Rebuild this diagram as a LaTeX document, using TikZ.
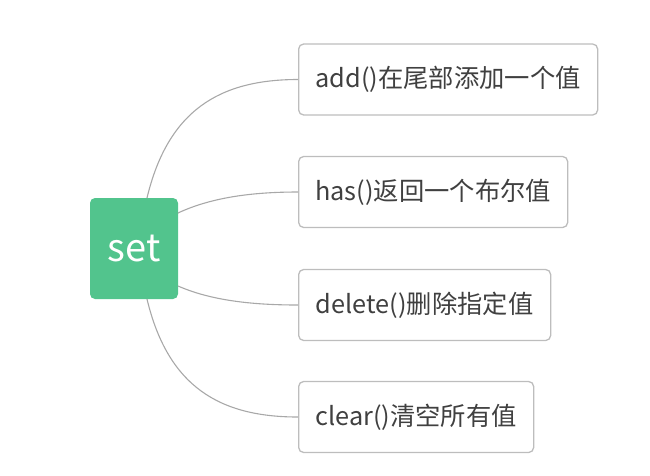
\documentclass[tikz,border=0pt]{standalone}
\usepackage{fontspec}
\setmainfont{Noto Sans CJK SC}
\definecolor{setgreen}{HTML}{52C48D}
\definecolor{boxgray}{HTML}{BDBDBD}
\definecolor{linegray}{HTML}{A8A8A8}
\definecolor{txtgray}{HTML}{404040}
\begin{document}
\begin{tikzpicture}[x=1pt,y=-1pt,
  rootbox/.style={fill=setgreen,draw=none,rounded corners=5pt,text=white,font=\fontsize{38}{42}\selectfont,inner sep=0pt},
  leafbox/.style={draw=boxgray,line width=1.3pt,fill=white,rounded corners=5pt,text=txtgray,font=\fontsize{25.3}{29}\selectfont,inner sep=0pt,anchor=west,minimum height=71pt},
  link/.style={draw=linegray,line width=1.1pt}]
\useasboundingbox (0,0) rectangle (650,475);
\node[rootbox,minimum width=88pt,minimum height=101pt] (set) at (134,248.5) {set};
\node[leafbox,minimum width=299pt] (a) at (298,79.5) {add()在尾部添加一个值};
\node[leafbox,minimum width=269pt] (b) at (298,192) {has()返回一个布尔值};
\node[leafbox,minimum width=252pt] (c) at (298,305) {delete()删除指定值};
\node[leafbox,minimum width=235pt] (d) at (298,417) {clear()清空所有值};
\coordinate (s1) at (147,198);
\coordinate (s2) at (178,213);
\coordinate (s3) at (178,286);
\coordinate (s4) at (147,299);
\draw[link] (s1) .. controls (168,110) and (220,79.5) .. (a.west);
\draw[link] (s2) .. controls (210,198) and (250,192) .. (b.west);
\draw[link] (s3) .. controls (210,300) and (250,305) .. (c.west);
\draw[link] (s4) .. controls (168,387) and (220,417) .. (d.west);
\end{tikzpicture}
\end{document}
